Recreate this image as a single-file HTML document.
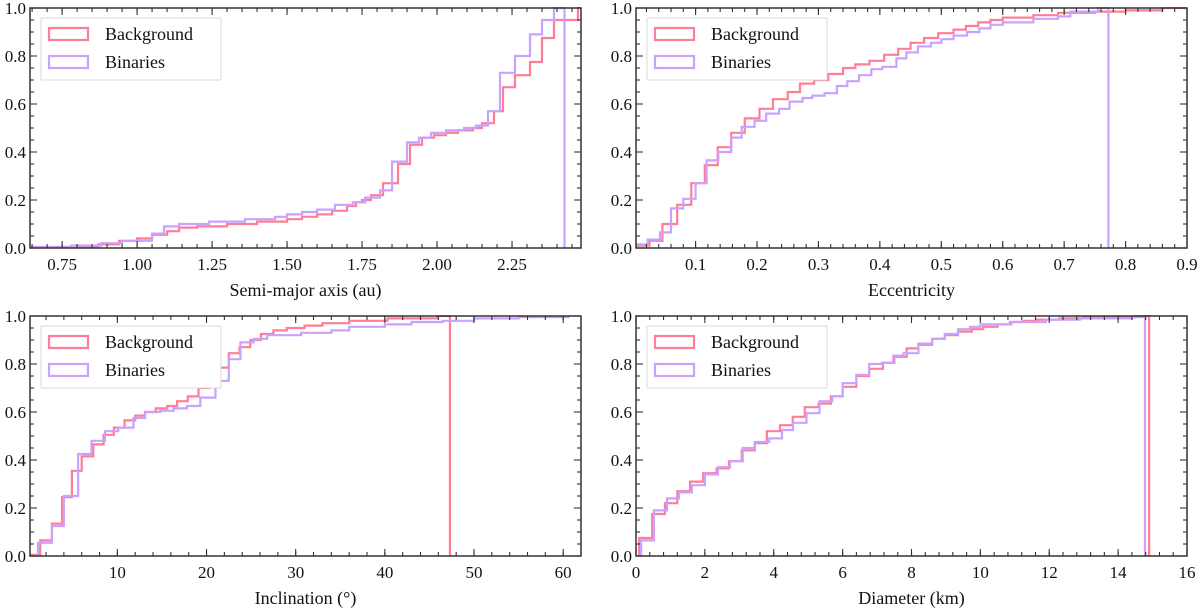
<!DOCTYPE html>
<html><head><meta charset="utf-8">
<style>
html,body{margin:0;padding:0;background:#fff;}
svg{display:block;font-family:"Liberation Serif","DejaVu Serif",serif;}
svg text{font-family:"Liberation Serif","DejaVu Serif",serif;}
</style></head>
<body>
<svg id="fig" width="1200" height="608" viewBox="0 0 1200 608"></svg>
<script>
// ---- data ----
const p1BgX = [0.643,0.80,0.87,0.94,1.00,1.05,1.10,1.14,1.20,1.30,1.40,1.50,1.55,1.60,1.65,1.70,1.73,1.75,1.78,1.82,1.87,1.91,1.95,1.99,2.03,2.07,2.12,2.15,2.19,2.22,2.26,2.31,2.35,2.39,2.47];
const p1BgY = [0.0,0.005,0.015,0.03,0.04,0.055,0.07,0.085,0.09,0.10,0.11,0.12,0.13,0.14,0.155,0.175,0.19,0.20,0.22,0.27,0.35,0.43,0.46,0.47,0.48,0.49,0.50,0.52,0.57,0.67,0.72,0.775,0.875,0.95,1.0];
const p1BiX = [0.643,0.78,0.88,0.95,1.05,1.09,1.14,1.24,1.36,1.46,1.50,1.55,1.60,1.66,1.72,1.76,1.81,1.85,1.90,1.94,1.98,2.03,2.09,2.13,2.17,2.21,2.26,2.31,2.35,2.39];
const p1BiY = [0.005,0.01,0.02,0.03,0.06,0.09,0.10,0.11,0.12,0.13,0.14,0.15,0.16,0.18,0.19,0.21,0.24,0.36,0.44,0.46,0.48,0.49,0.50,0.51,0.57,0.73,0.80,0.89,0.95,1.0];
const p2BgX = [0.003,0.025,0.046,0.07,0.093,0.115,0.136,0.158,0.18,0.204,0.226,0.25,0.27,0.293,0.316,0.34,0.36,0.383,0.407,0.43,0.45,0.472,0.495,0.52,0.54,0.56,0.58,0.60,0.65,0.69,0.75,0.80,0.86];
const p2BgY = [0.01,0.03,0.10,0.18,0.27,0.345,0.42,0.48,0.54,0.58,0.62,0.65,0.685,0.70,0.725,0.75,0.765,0.78,0.805,0.83,0.855,0.875,0.895,0.91,0.925,0.94,0.95,0.96,0.97,0.98,0.985,0.99,1.0];
const p2BiX = [0.003,0.022,0.042,0.06,0.08,0.10,0.118,0.137,0.158,0.175,0.196,0.215,0.236,0.253,0.274,0.29,0.31,0.33,0.347,0.366,0.386,0.404,0.427,0.443,0.462,0.483,0.50,0.52,0.542,0.562,0.58,0.60,0.65,0.69,0.71,0.755];
const p2BiY = [0.015,0.035,0.065,0.165,0.205,0.27,0.365,0.40,0.46,0.505,0.53,0.56,0.58,0.61,0.625,0.635,0.645,0.675,0.695,0.72,0.745,0.755,0.79,0.815,0.84,0.855,0.87,0.885,0.90,0.915,0.93,0.94,0.955,0.965,0.985,1.0];
const p3BgX = [0.2,1.35,2.66,3.8,4.9,6.0,7.3,8.45,9.6,10.8,12.0,13.1,14.3,15.6,16.7,17.9,19.1,20.3,21.4,22.5,23.7,24.9,26.1,27.5,29,31,33,36,40.3,45.9];
const p3BgY = [0.005,0.065,0.135,0.245,0.355,0.415,0.465,0.505,0.535,0.565,0.585,0.60,0.615,0.625,0.645,0.665,0.70,0.74,0.785,0.845,0.87,0.90,0.925,0.94,0.95,0.96,0.97,0.98,0.99,1.0];
const p3BiX = [1.1,2.66,4.0,5.6,7.1,8.6,10.1,11.8,13.1,14.8,16.3,17.8,19.3,21.0,22.5,23.8,25.3,26.8,30.6,34,36,40,43,46.5,50,55];
const p3BiY = [0.055,0.125,0.25,0.425,0.48,0.52,0.535,0.575,0.60,0.605,0.615,0.625,0.66,0.73,0.82,0.89,0.905,0.92,0.93,0.94,0.955,0.965,0.975,0.98,0.99,0.995];
const p4BgX = [0.09,0.47,0.84,1.2,1.57,1.95,2.34,2.7,3.07,3.45,3.8,4.18,4.55,4.9,5.3,5.66,6.0,6.4,6.77,7.17,7.5,7.86,8.2,8.6,8.97,9.35,9.75,10.08,10.5,10.86,11.24,11.64,12.3,13.0,14.5];
const p4BgY = [0.075,0.175,0.22,0.27,0.31,0.345,0.365,0.395,0.44,0.47,0.52,0.545,0.58,0.62,0.635,0.665,0.705,0.75,0.78,0.805,0.83,0.865,0.88,0.905,0.92,0.935,0.945,0.955,0.965,0.975,0.98,0.985,0.99,0.995,1.0];
const p4BiX = [0.15,0.52,0.9,1.25,1.62,2.0,2.38,2.73,3.1,3.45,3.87,4.24,4.56,4.95,5.33,5.7,6.0,6.4,6.77,7.14,7.47,7.77,8.2,8.6,8.97,9.35,9.7,10.0,10.9,11.9,12.9,14.4];
const p4BiY = [0.065,0.19,0.24,0.265,0.295,0.34,0.37,0.395,0.45,0.475,0.49,0.525,0.555,0.595,0.645,0.665,0.72,0.755,0.80,0.805,0.835,0.845,0.885,0.905,0.925,0.945,0.955,0.965,0.975,0.985,0.99,0.995];
const p1XTicks = ["0.75","1.00","1.25","1.50","1.75","2.00","2.25"];
const p2XTicks = ["0.1","0.2","0.3","0.4","0.5","0.6","0.7","0.8","0.9"];
const p3XTicks = ["10","20","30","40","50","60"];
const p4XTicks = ["0","2","4","6","8","10","12","14","16"];
const yTicks = ["0.0","0.2","0.4","0.6","0.8","1.0"];

const NS="http://www.w3.org/2000/svg";
const svg=document.getElementById('fig');
const RED="#ff7d96", PUR="#c9a2ff";
const FONT='"Liberation Serif", "DejaVu Serif", serif';
function mk(tag,attrs,parent){const e=document.createElementNS(NS,tag);for(const k in attrs)e.setAttribute(k,attrs[k]);if(tag==='text')e.setAttribute('font-family',FONT);(parent||svg).appendChild(e);return e;}

const panels=[
 {name:'semi-major-axis',L:30,R:581,T:8,B:248,xmin:0.643,xmax:2.48,xt:p1XTicks,minor:0.05,title:'Semi-major axis (au)',
  series:[{n:'background',x:p1BgX,y:p1BgY,end:2.49,drop:false,c:RED},{n:'binaries',x:p1BiX,y:p1BiY,end:2.425,drop:true,c:PUR}]},
 {name:'eccentricity',L:636,R:1187,T:8,B:248,xmin:0.003,xmax:0.9,xt:p2XTicks,minor:0.02,title:'Eccentricity',
  series:[{n:'background',x:p2BgX,y:p2BgY,end:0.92,drop:false,c:RED},{n:'binaries',x:p2BiX,y:p2BiY,end:0.772,drop:true,c:PUR}]},
 {name:'inclination',L:30,R:581,T:316,B:556,xmin:0.2,xmax:62,xt:p3XTicks,minor:2,title:'Inclination (°)',
  series:[{n:'background',x:p3BgX,y:p3BgY,end:47.3,drop:true,c:RED},{n:'binaries',x:p3BiX,y:p3BiY,end:60.7,drop:false,c:PUR}]},
 {name:'diameter',L:636,R:1187,T:316,B:556,xmin:0,xmax:16,xt:p4XTicks,minor:0.4,title:'Diameter (km)',
  series:[{n:'background',x:p4BgX,y:p4BgY,end:14.9,drop:true,c:RED},{n:'binaries',x:p4BiX,y:p4BiY,end:14.78,drop:true,c:PUR}]}
];

panels.forEach((p,pi)=>{
  const g=mk('g',{});
  
  
  const sx=v=>p.L+(v-p.xmin)/(p.xmax-p.xmin)*(p.R-p.L);
  const sy=v=>p.B-v*(p.B-p.T);
  const cid='clip'+pi;
  const cp=mk('clipPath',{id:cid},g);mk('rect',{x:p.L,y:p.T-1,width:p.R-p.L,height:p.B-p.T+1},cp);
  p.series.forEach(s=>{
    let d='M'+sx(s.x[0])+','+sy(0)+' L'+sx(s.x[0])+','+sy(s.y[0]);
    for(let i=1;i<s.x.length;i++){d+=' L'+sx(s.x[i])+','+sy(s.y[i-1])+' L'+sx(s.x[i])+','+sy(s.y[i]);}
    d+=' L'+sx(s.end)+','+sy(s.y[s.y.length-1]);
    if(s.drop)d+=' L'+sx(s.end)+','+sy(0);
    const path=mk('path',{d:d,fill:'none',stroke:s.c,'stroke-width':2.2,'clip-path':'url(#'+cid+')'},g);
    
    
  });
  const tg=mk('g',{stroke:'#333','stroke-width':1.1},g);
  yTicks.forEach(t=>{const v=parseFloat(t),y=sy(v);
    mk('line',{x1:p.L,x2:p.L+7,y1:y,y2:y},tg);mk('line',{x1:p.R,x2:p.R-7,y1:y,y2:y},tg);
    const tx=mk('text',{x:p.L-4,y:y+6,'text-anchor':'end','font-size':17,fill:'#111',stroke:'none'},g);tx.textContent=t;
    
    
  });
  for(let v=0.05;v<1;v+=0.05){if(Math.abs(v*5-Math.round(v*5))<1e-6)continue;const y=sy(v);
    mk('line',{x1:p.L,x2:p.L+4,y1:y,y2:y},tg);mk('line',{x1:p.R,x2:p.R-4,y1:y,y2:y},tg);}
  p.xt.forEach(t=>{const v=parseFloat(t),x=sx(v);
    mk('line',{x1:x,x2:x,y1:p.B,y2:p.B-7},tg);mk('line',{x1:x,x2:x,y1:p.T,y2:p.T+7},tg);
    const tx=mk('text',{x:x,y:p.B+22,'text-anchor':'middle','font-size':17,fill:'#111',stroke:'none'},g);tx.textContent=t;
    
    
  });
  const start=Math.ceil(p.xmin/p.minor)*p.minor;
  for(let v=start;v<p.xmax+1e-9;v+=p.minor){const x=sx(v);if(x<p.L+1||x>p.R-1)continue;
    mk('line',{x1:x,x2:x,y1:p.B,y2:p.B-4},tg);mk('line',{x1:x,x2:x,y1:p.T,y2:p.T+4},tg);}
  const fr=mk('rect',{x:p.L,y:p.T,width:p.R-p.L,height:p.B-p.T,fill:'none',stroke:'#333','stroke-width':1.5},g);
  
  
  const at=mk('text',{x:(p.L+p.R)/2,y:p.B+48,'text-anchor':'middle','font-size':18,fill:'#111'},g);at.textContent=p.title;
  
  
  const lg=mk('g',{},g);
  
  
  const lx=p.L+11, ly=p.T+10;
  mk('rect',{x:lx,y:ly,width:180,height:62,fill:'#fff',stroke:'#d9d9d9','stroke-width':1,rx:1},lg);
  [['Background',RED],['Binaries',PUR]].forEach((e,i)=>{
    const eg=mk('g',{},lg);
    
    
    mk('rect',{x:lx+8,y:ly+10+i*28,width:39,height:12,fill:'none',stroke:e[1],'stroke-width':2.2},eg);
    const t=mk('text',{x:lx+64,y:ly+22+i*28,'font-size':18,fill:'#111'},eg);t.textContent=e[0];
  });
});
</script>
</body></html>
